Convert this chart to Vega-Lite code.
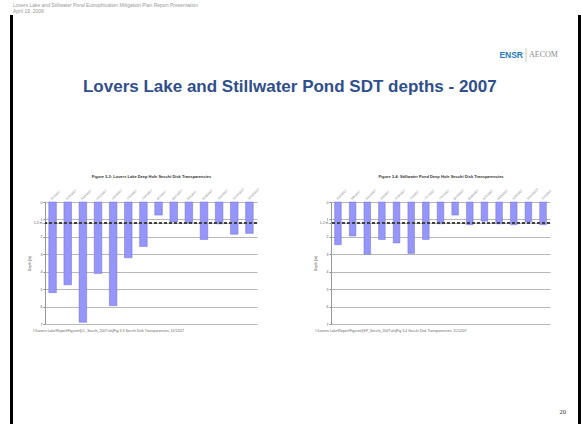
{
  "$schema": "https://vega.github.io/schema/vega-lite/v6.json",
  "padding": {"left": 10, "top": 3, "right": 0, "bottom": 0},
  "background": "white",
  "config": {"view": {"stroke": null}, "font": "Liberation Sans"},
  "title": {
    "text": ["Lovers Lake and Stillwater Pond Eutrophication Mitigation Plan Report Presentation", "April 19, 2008"],
    "anchor": "start", "frame": "group", "fontSize": 5, "lineHeight": 6, "color": "#999999",
    "fontWeight": "normal", "font": "Liberation Sans", "offset": 1, "dx": 3
  },
  "datasets": {
    "lovers": [
      {"date": "5/1/2007", "depth": 5.2},
      {"date": "5/15/2007", "depth": 4.75},
      {"date": "5/29/2007", "depth": 6.9},
      {"date": "6/12/2007", "depth": 4.1},
      {"date": "6/26/2007", "depth": 5.95},
      {"date": "7/10/2007", "depth": 3.2},
      {"date": "7/24/2007", "depth": 2.55},
      {"date": "8/7/2007", "depth": 0.75},
      {"date": "8/21/2007", "depth": 1.15},
      {"date": "9/4/2007", "depth": 1.2},
      {"date": "9/18/2007", "depth": 2.15},
      {"date": "10/2/2007", "depth": 1.25},
      {"date": "10/16/2007", "depth": 1.85},
      {"date": "10/30/2007", "depth": 1.8}
    ],
    "stillwater": [
      {"date": "4/24/2007", "depth": 2.45},
      {"date": "5/8/2007", "depth": 1.95},
      {"date": "5/22/2007", "depth": 3.0},
      {"date": "6/5/2007", "depth": 2.15},
      {"date": "6/19/2007", "depth": 2.35},
      {"date": "7/3/2007", "depth": 2.95},
      {"date": "7/17/2007", "depth": 2.15},
      {"date": "7/31/2007", "depth": 1.25},
      {"date": "8/14/2007", "depth": 0.75},
      {"date": "8/28/2007", "depth": 1.3},
      {"date": "9/11/2007", "depth": 1.1},
      {"date": "9/25/2007", "depth": 1.25},
      {"date": "10/9/2007", "depth": 1.3},
      {"date": "10/23/2007", "depth": 1.15},
      {"date": "11/6/2007", "depth": 1.3}
    ]
  },
  "spacing": 0,
  "hconcat": [
    {
      "width": 3, "height": 409,
      "data": {"values": [{}]},
      "mark": {"type": "rect", "color": "#000000"},
      "encoding": {
        "x": {"datum": 0, "type": "quantitative", "scale": {"domain": [0, 1]}, "axis": null},
        "x2": {"datum": 1},
        "y": {"datum": 0, "type": "quantitative", "scale": {"domain": [0, 1]}, "axis": null},
        "y2": {"datum": 1}
      }
    },
    {
      "spacing": 0,
      "vconcat": [
        {
          "width": 565, "height": 159,
          "data": {"values": [{}]},
          "layer": [
            {
              "mark": {"type": "text", "text": "ENSR", "align": "right", "baseline": "middle", "fontSize": 8.5, "fontWeight": "bold", "color": "#1F7AC0", "dx": -3},
              "encoding": {
                "x": {"datum": 0.908, "type": "quantitative", "scale": {"domain": [0, 1]}, "axis": null},
                "y": {"datum": 0.748, "type": "quantitative", "scale": {"domain": [0, 1]}, "axis": null}
              }
            },
            {
              "mark": {"type": "rule", "color": "#BBBBBB", "strokeWidth": 0.8},
              "encoding": {
                "x": {"datum": 0.908, "type": "quantitative"},
                "y": {"datum": 0.792, "type": "quantitative"},
                "y2": {"datum": 0.704}
              }
            },
            {
              "mark": {"type": "text", "text": "AECOM", "align": "left", "baseline": "middle", "fontSize": 8, "font": "Liberation Serif", "color": "#8C8C8C", "dx": 3},
              "encoding": {
                "x": {"datum": 0.908, "type": "quantitative"},
                "y": {"datum": 0.748, "type": "quantitative"}
              }
            },
            {
              "mark": {"type": "text", "text": "Lovers Lake and Stillwater Pond SDT depths - 2007", "align": "center", "baseline": "middle", "fontSize": 17, "fontWeight": "bold", "color": "#2F4F8C"},
              "encoding": {
                "x": {"datum": 0.49, "type": "quantitative"},
                "y": {"datum": 0.547, "type": "quantitative"}
              }
            }
          ]
        },
        {
          "bounds": "flush",
          "spacing": 0,
          "hconcat": [
            {
              "width": 32, "height": 122,
              "data": {"values": [{}]},
              "mark": {"type": "text"},
              "encoding": {}
            },
            {
              "width": 212, "height": 122,
              "data": {"name": "lovers"},
              "title": {"text": "I:\\Lovers Lake\\Report\\Figures\\[LL_Secchi_2007.xls]Fig 3-3 Secchi Disk Transparencies, 11/12/07", "orient": "bottom", "anchor": "start", "fontSize": 3.5, "fontWeight": "normal", "color": "#666666", "offset": 3, "dx": 6},
              "layer": [
                {
                  "mark": {"type": "bar", "color": "#9595FA", "stroke": "#6F6FD6", "strokeWidth": 0.5},
                  "encoding": {
                    "x": {
                      "field": "date", "type": "ordinal", "sort": null,
                      "scale": {"paddingInner": 0.5, "paddingOuter": 0.25},
                      "axis": {"orient": "top", "labelAngle": -45, "labelFontSize": 3, "labelColor": "#777777", "domain": false, "ticks": false, "labelPadding": 2,
                        "title": "Figure 3-3:  Lovers Lake Deep Hole Secchi Disk Transparencies", "titleFontSize": 4, "titleColor": "#333333", "titlePadding": 9}
                    },
                    "y": {
                      "field": "depth", "type": "quantitative",
                      "scale": {"domain": [0, 7], "reverse": true},
                      "axis": {"values": [0, 1, 1.2, 2, 3, 4, 5, 6, 7], "labelExpr": "datum.value == 1.2 ? '1.2 m' : datum.label", "labelOverlap": false,
                        "labelFontSize": 3.5, "labelColor": "#555555", "tickSize": 2, "tickColor": "#888888", "domainColor": "#999999",
                        "gridColor": "#999999", "gridWidth": 0.7, "labelPadding": 1,
                        "title": "Depth (m)", "titleFontSize": 3.5, "titleFontWeight": "normal", "titleColor": "#444444", "titlePadding": 2}
                    }
                  }
                },
                {
                  "mark": {"type": "rule", "color": "#404040", "strokeDash": [3, 2], "strokeWidth": 1},
                  "encoding": {"y": {"datum": 1.2, "type": "quantitative",
                    "axis": {"values": [0, 1, 1.2, 2, 3, 4, 5, 6, 7], "labelExpr": "datum.value == 1.2 ? '1.2 m' : datum.label", "labelOverlap": false,
                        "labelFontSize": 3.5, "labelColor": "#555555", "tickSize": 2, "tickColor": "#888888", "domainColor": "#999999",
                        "gridColor": "#999999", "gridWidth": 0.7, "labelPadding": 1,
                        "title": "Depth (m)", "titleFontSize": 3.5, "titleFontWeight": "normal", "titleColor": "#444444", "titlePadding": 2}}}
                }
              ]
            },
            {
              "width": 74, "height": 122,
              "data": {"values": [{}]},
              "mark": {"type": "text"},
              "encoding": {}
            },
            {
              "width": 219, "height": 122,
              "data": {"name": "stillwater"},
              "title": {"text": "I:\\Lovers Lake\\Report\\Figures\\[SP_Secchi_2007.xls]Fig 3-4 Secchi Disk Transparencies, 11/12/07", "orient": "bottom", "anchor": "start", "fontSize": 3.5, "fontWeight": "normal", "color": "#666666", "offset": 3, "dx": 2},
              "layer": [
                {
                  "mark": {"type": "bar", "color": "#9595FA", "stroke": "#6F6FD6", "strokeWidth": 0.5},
                  "encoding": {
                    "x": {
                      "field": "date", "type": "ordinal", "sort": null,
                      "scale": {"paddingInner": 0.55, "paddingOuter": 0.25},
                      "axis": {"orient": "top", "labelAngle": -45, "labelFontSize": 3, "labelColor": "#777777", "domain": false, "ticks": false, "labelPadding": 2,
                        "title": "Figure 3-4:  Stillwater Pond Deep Hole Secchi Disk Transparencies", "titleFontSize": 4, "titleColor": "#333333", "titlePadding": 9}
                    },
                    "y": {
                      "field": "depth", "type": "quantitative",
                      "scale": {"domain": [0, 7], "reverse": true},
                      "axis": {"values": [0, 1, 1.2, 2, 3, 4, 5, 6, 7], "labelExpr": "datum.value == 1.2 ? '1.2 m' : datum.label", "labelOverlap": false,
                        "labelFontSize": 3.5, "labelColor": "#555555", "tickSize": 2, "tickColor": "#888888", "domainColor": "#999999",
                        "gridColor": "#999999", "gridWidth": 0.7, "labelPadding": 1,
                        "title": "Depth (m)", "titleFontSize": 3.5, "titleFontWeight": "normal", "titleColor": "#444444", "titlePadding": 2}
                    }
                  }
                },
                {
                  "mark": {"type": "rule", "color": "#404040", "strokeDash": [3, 2], "strokeWidth": 1},
                  "encoding": {"y": {"datum": 1.2, "type": "quantitative",
                    "axis": {"values": [0, 1, 1.2, 2, 3, 4, 5, 6, 7], "labelExpr": "datum.value == 1.2 ? '1.2 m' : datum.label", "labelOverlap": false,
                        "labelFontSize": 3.5, "labelColor": "#555555", "tickSize": 2, "tickColor": "#888888", "domainColor": "#999999",
                        "gridColor": "#999999", "gridWidth": 0.7, "labelPadding": 1,
                        "title": "Depth (m)", "titleFontSize": 3.5, "titleFontWeight": "normal", "titleColor": "#444444", "titlePadding": 2}}}
                }
              ]
            }
          ]
        },
        {
          "width": 565, "height": 93,
          "data": {"values": [{}]},
          "mark": {"type": "text", "text": "20", "fontSize": 6.5, "font": "Liberation Serif", "color": "#333333", "align": "center", "baseline": "middle"},
          "encoding": {
            "x": {"datum": 0.973, "type": "quantitative", "scale": {"domain": [0, 1]}, "axis": null},
            "y": {"datum": 0.14, "type": "quantitative", "scale": {"domain": [0, 1]}, "axis": null}
          }
        }
      ]
    },
    {
      "width": 3, "height": 409,
      "data": {"values": [{}]},
      "mark": {"type": "rect", "color": "#000000"},
      "encoding": {
        "x": {"datum": 0, "type": "quantitative", "scale": {"domain": [0, 1]}, "axis": null},
        "x2": {"datum": 1},
        "y": {"datum": 0, "type": "quantitative", "scale": {"domain": [0, 1]}, "axis": null},
        "y2": {"datum": 1}
      }
    }
  ]
}
